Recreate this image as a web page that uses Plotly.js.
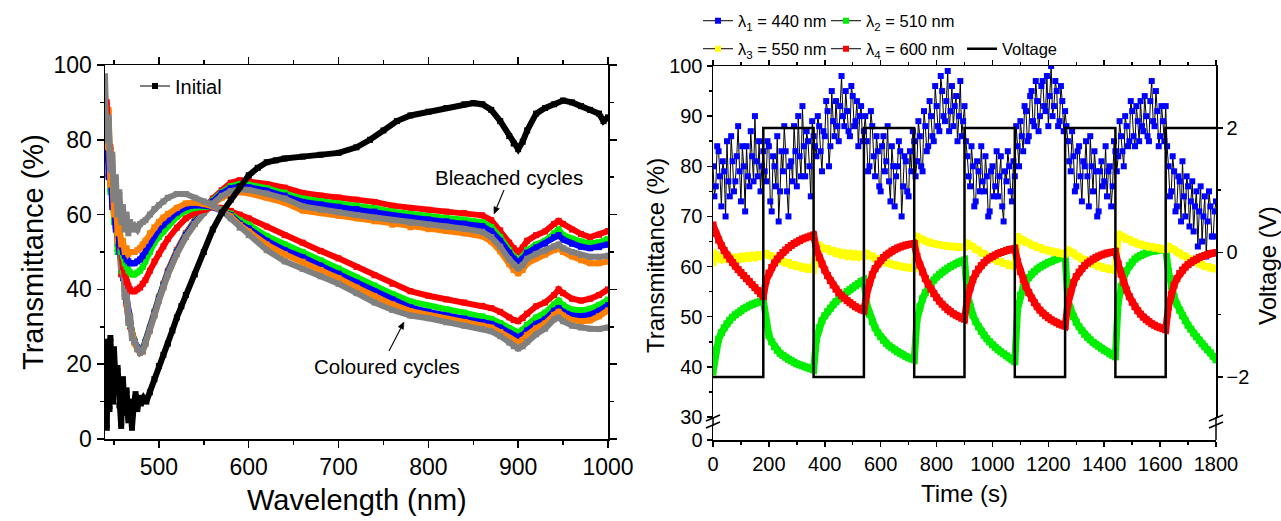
<!DOCTYPE html>
<html><head><meta charset="utf-8">
<script src="https://cdn.plot.ly/plotly-3.0.1.min.js"></script>
<style>html,body{margin:0;padding:0;background:#fff;}#chart{width:1281px;height:521px;}</style>
</head><body><div id="chart"></div>
<script>
// ---------- Left panel data: transmittance spectra ----------
const wavelength = [440,442,444,446,448,450,452,454,456,458,460,462,464,466,468,470,473,476,479,482,485,490,495,500,505,510,520,530,540,550,560,570,580,590,600,620,640,660,680,700,720,740,760,780,800,820,840,860,870,880,890,895,900,905,910,920,930,940,945,950,960,970,980,990,1000];
const bleachedRed    = [88,78,82,68,71,60,63,52,55,44,46,38,36,32,30,28, 26,24.5,23.5,24,26, 30,34,38,41.5,45, 50.5,55,58.5,61.5,64.3,66.5,68.5,69.2,69, 68.2,67.2,65.8,65.1,64.6,64,63.4,62.4,61.7,61.3,60.8,60.4,59.8, 58.5,55.8,52.5,51,50,51.2,53, 54.5,55.5,57.5,58.3,57.5,56,54.8,54,54.6,55.6];
const bleachedGreen  = [90,75,80,66,72,58,62,50,54,45,47,39,37,33,30.5,28, 26,24.5,23.5,24,26, 29.8,33.8,37.8,41.2,44.7, 50.2,54.7,58.2,61.2,63.8,66,67.6,68.2,68, 67.1,65.9,64.3,63.6,63,62.4,61.7,60.8,60.1,59.6,59.1,58.6,58, 56.7,54,50.5,48.8,47.8,48.8,50.5, 52,53,55,56,54.5,53.5,52.8,52.3,52.6,53.5];
const bleachedBlue   = [86,80,76,70,66,61,57,54,50,47,43,40,37,34,31,28.5, 26,24.3,23.3,23.8,25.8, 29.5,33.5,37.5,41,44.5, 50,54.5,58,61,63.5,65.7,67.1,67.5,67.3, 66.4,65.1,63.4,62.7,62.1,61.5,60.8,59.9,59.2,58.7,58.2,57.6,56.9, 55.6,53,49.8,48.2,47.3,48.2,49.8, 51.2,52.2,54,54.5,53.3,52.2,51.4,51,51.3,52];
const bleachedOrange = [92,84,88,72,76,63,66,53,57,47,45,40,38,33,31,28, 25.5,24,23,23.3,25.3, 29,33,37,40.5,44, 49.5,54,57.5,60.5,62.8,64.5,65.5,66,65.7, 64.6,63.2,61.1,60.4,59.7,59,58.2,57.3,56.6,56.1,55.6,55,54.2, 52.8,50.2,46.8,45.2,44.3,45.2,47, 48.3,49.3,50.5,51,50,48.8,47.8,47,47,47.5];
const bleachedGray   = [97,80,84,70,74,62,65,55,56,46,48,38,40,31,33,27, 26,24,23,23.5,25.5, 29,33,37,40.5,44, 49.5,54,57.5,60.5,63,65,66.3,66.8,66.6, 65.6,64.3,62.2,61.3,60.6,59.9,59.2,58.5,57.8,57.3,56.8,56.2,55.4, 54,51.4,48,46.5,45.6,46.5,48.2, 49.5,50.3,51.5,52,51,50,49.2,48.7,48.7,49];
const colouredRed    = [85,90,75,78,65,68,58,60,52,50,46,44,42,41,40,39.5, 39.5,40,40.5,41.5,42.5, 45,47.5,49.5,51.5,53.5, 56.5,59,60.5,61.3,62,61.8,61,60,59, 56.8,54.5,52.5,50.3,48.3,46,43.8,41.5,39.5,38.3,37.3,36.5,35.6, 35,34,32.5,31.8,31.5,32.3,33.5, 35.5,36.5,38.5,40,39,37.5,37,37.5,38.5,40];
const colouredGreen  = [88,80,84,70,72,62,64,55,56,50,49,47,46,45,44.5,44, 44,44.5,45,46,47.5, 50,52.5,54,55.5,57, 59.4,61,61.8,62,62,61.3,60.2,58.5,57.3, 54.3,52,50,47.8,45.6,43.2,41,38.8,36.8,35.6,34.7,33.8,32.8, 32.1,31,29.6,28.8,28.5,29.2,30.5, 32.5,33.8,36,37,35.8,34.6,34.4,34.8,35.8,37.3];
const colouredBlue   = [80,86,70,75,62,66,56,58,52,52,50,49,48,47.5,47,47, 47,47.5,48,49,50.2, 52.5,54.5,56,57.3,58.5, 60.6,62,62.5,62.4,62,61,59.8,57.6,56.3, 53,50.5,48.6,46.4,44.2,41.8,39.5,37.3,35.2,34,33,32.2,31.3, 30.8,29.8,28.3,27.5,27.2,27.8,29, 30.8,32,34.3,35,34,33,32.8,33.2,34.3,35.8];
const colouredOrange = [88,78,83,68,72,60,64,55,57,52,53,50,51,49.5,50,50, 50,50.5,51,52,53, 55,56.6,58,59.2,60.2, 61.8,63,63.2,62.8,62.2,61,59.5,57.2,55.5, 52,49.4,47.4,45.2,43,40.5,38.2,36,34.2,33.1,32.1,31.3,30.3, 29.8,28.6,27,26.2,25.8,26.5,27.8, 29.6,30.9,33.2,34,33,31.8,31.5,31.7,32.8,34.4];
const colouredGray   = [92,80,86,72,76,64,70,60,66,58,62,56,60,55,58,56, 57,56,57.5,58,58.5, 60,61.5,62.5,63.5,64.5, 65.5,65.5,64.5,63.5,62.5,61,59,56.5,54.5, 50.5,47.5,45.5,43.5,41.5,39,36.5,34.5,33,32.3,31.2,30.3,29.4, 28.8,27.5,25.8,24.8,24.2,24.8,26, 28,29.5,32,32.5,31.5,30.3,29.8,29.5,29.4,29.8];
const wavelengthInitial = [440,441,442,443,444,445,446,447,448,449,450,452,454,456,458,460,462,464,466,468,470,472,474,476,478,480,483,486,490,495,500,505,510,515,520,525,530,540,550,560,570,580,590,600,610,620,630,640,660,680,700,720,735,750,765,780,800,820,840,850,860,870,880,890,895,900,905,910,920,930,940,950,960,970,980,990,995,1000];
const initial = [22,12,3,26,18,8,27,15,20,10,24,14,19,9,3.5,16,7,13,5,10,3,9,12,8,11,9.5,11,10,12.5,16,19.5,22.5,25.5,29,32.5,35.5,38.5,44,50,56,60.5,64,67.5,70.5,72.5,74,74.5,75,75.5,76,76.5,78,80,82.5,85,86.5,87.5,88.5,89.5,89.8,89.5,88,85,81,79,77.5,79.5,82.5,87,88.5,89.5,90.5,90,89,88,87,85,86];

// ---------- Right panel data: kinetics ----------
const time = [0,10,20,30,40,50,60,70,80,90,100,110,120,130,140,150,160,170,180,190,200,210,220,230,240,250,260,270,280,290,300,310,320,330,340,350,360,370,380,390,400,410,420,430,440,450,460,470,480,490,500,510,520,530,540,550,560,570,580,590,600,610,620,630,640,650,660,670,680,690,700,710,720,730,740,750,760,770,780,790,800,810,820,830,840,850,860,870,880,890,900,910,920,930,940,950,960,970,980,990,1000,1010,1020,1030,1040,1050,1060,1070,1080,1090,1100,1110,1120,1130,1140,1150,1160,1170,1180,1190,1200,1210,1220,1230,1240,1250,1260,1270,1280,1290,1300,1310,1320,1330,1340,1350,1360,1370,1380,1390,1400,1410,1420,1430,1440,1450,1460,1470,1480,1490,1500,1510,1520,1530,1540,1550,1560,1570,1580,1590,1600,1610,1620,1630,1640,1650,1660,1670,1680,1690,1700,1710,1720,1730,1740,1750,1760,1770,1780,1790,1800];
const timeFine = [0,5,10,15,20,25,30,35,40,45,50,55,60,65,70,75,80,85,90,95,100,105,110,115,120,125,130,135,140,145,150,155,160,165,170,175,180,185,190,195,200,205,210,215,220,225,230,235,240,245,250,255,260,265,270,275,280,285,290,295,300,305,310,315,320,325,330,335,340,345,350,355,360,365,370,375,380,385,390,395,400,405,410,415,420,425,430,435,440,445,450,455,460,465,470,475,480,485,490,495,500,505,510,515,520,525,530,535,540,545,550,555,560,565,570,575,580,585,590,595,600,605,610,615,620,625,630,635,640,645,650,655,660,665,670,675,680,685,690,695,700,705,710,715,720,725,730,735,740,745,750,755,760,765,770,775,780,785,790,795,800,805,810,815,820,825,830,835,840,845,850,855,860,865,870,875,880,885,890,895,900,905,910,915,920,925,930,935,940,945,950,955,960,965,970,975,980,985,990,995,1000,1005,1010,1015,1020,1025,1030,1035,1040,1045,1050,1055,1060,1065,1070,1075,1080,1085,1090,1095,1100,1105,1110,1115,1120,1125,1130,1135,1140,1145,1150,1155,1160,1165,1170,1175,1180,1185,1190,1195,1200,1205,1210,1215,1220,1225,1230,1235,1240,1245,1250,1255,1260,1265,1270,1275,1280,1285,1290,1295,1300,1305,1310,1315,1320,1325,1330,1335,1340,1345,1350,1355,1360,1365,1370,1375,1380,1385,1390,1395,1400,1405,1410,1415,1420,1425,1430,1435,1440,1445,1450,1455,1460,1465,1470,1475,1480,1485,1490,1495,1500,1505,1510,1515,1520,1525,1530,1535,1540,1545,1550,1555,1560,1565,1570,1575,1580,1585,1590,1595,1600,1605,1610,1615,1620,1625,1630,1635,1640,1645,1650,1655,1660,1665,1670,1675,1680,1685,1690,1695,1700,1705,1710,1715,1720,1725,1730,1735,1740,1745,1750,1755,1760,1765,1770,1775,1780,1785,1790,1795,1800];
const t440 = [80,74,76,84,83,78,72,81,79,70,85,77,74,86,81,75,77,82,88,79,73,84,80,71,84,78,76,87,82,77,90,81,78,85,75,80,83,
  79,77,85,84,73,71,82,80,76,86,69,75,83,79,88,83,75,70,80,81,77,88,83,76,90,82,78,92,84,78,87,85,80,74,89,86,
  84,82,90,88,83,79,87,86,93,91,80,84,95,89,86,93,88,85,92,98,90,88,95,91,87,86,96,94,88,89,93,84,90,92,85,87,
  90,85,79,80,91,88,82,78,86,83,76,75,84,86,79,81,88,77,73,84,80,72,78,80,85,83,70,76,82,81,75,74,83,79,87,85,
  78,81,89,86,80,79,91,88,83,84,93,90,86,85,96,92,88,87,98,95,90,89,93,99,87,91,96,88,92,94,85,90,97,86,89,92,
  85,82,78,76,84,80,72,73,81,79,75,84,77,75,82,78,70,71,79,80,74,76,83,74,78,82,72,69,79,77,83,80,75,73,81,78,
  88,84,80,89,86,83,92,91,85,86,94,95,89,88,97,93,87,90,96,97,92,91,98,88,94,100,90,92,97,95,88,89,96,93,87,91,
  88,85,81,79,87,82,75,76,83,84,78,73,81,80,85,78,72,86,80,75,83,79,70,71,79,81,76,77,84,74,79,80,72,76,85,83,
  79,82,89,86,83,80,90,88,84,85,93,91,86,84,92,89,85,93,88,87,94,90,86,85,93,97,89,88,95,91,84,86,92,89,85,92,
  84,80,74,75,82,79,71,72,78,77,69,81,74,70,78,76,68,73,77,67,72,75,64,71,76,65,70,74,62,69,75,72,66,66,71,73];
const t510 = [39,43.5,45.5,46.8,47.8,48.6,49.3,49.9,50.4,50.8,51.2,51.6,51.9,52.2,52.5,52.7,52.9,53.1,53.3,
  48.5,46.3,45,44,43.3,42.7,42.3,41.9,41.5,41.2,40.9,40.6,40.4,40.2,40,39.8,39.6,39.4,
  45.5,47.8,49.2,50.2,51,51.7,52.4,53,53.5,54,54.5,55,55.4,55.8,56.2,56.6,57,57.3,
  52.5,50.5,49,47.8,46.8,46,45.3,44.7,44.2,43.8,43.4,43,42.7,42.4,42.1,41.8,41.6,41.4,
  49.5,52,53.6,54.8,55.8,56.6,57.3,57.9,58.4,58.9,59.3,59.7,60,60.3,60.6,60.9,61.1,61.3,
  54.5,52,50.3,49,48,47.1,46.3,45.6,45,44.4,43.9,43.4,43,42.6,42.2,41.8,41.4,41,
  51.5,54.3,55.9,57,57.8,58.5,59,59.5,59.9,60.2,60.5,60.8,61,61.3,61.5,61.7,61.9,62,
  53.5,51.5,50,48.9,48,47.2,46.5,45.9,45.4,44.9,44.5,44.1,43.7,43.3,43,42.6,42.3,42,
  53,56,57.8,59.2,60.2,60.9,61.5,61.9,62.2,62.5,62.7,62.9,63,63.1,63.2,63.3,63.4,63.5,
  59,56,54,52.5,51.3,50.2,49.2,48.3,47.5,46.7,46,45.3,44.6,44,43.4,42.8,42.1,41.4];
const t550 = [60.8,62.4,61.8,61.4,62.1,61.5,61.9,61.2,61.8,61.4,62,61.6,62.1,61.7,62.2,61.8,62.3,62,62.4,
  62.6,62.2,62.1,61.6,61.6,61.1,61.1,60.7,60.8,60.3,60.4,60,60.1,59.7,59.9,59.5,59.7,59.4,
  64.2,64.3,63.7,63.5,63.6,63,63.2,62.6,62.9,62.3,62.7,62.1,62.6,62,62.5,61.9,62.4,62,
  62.6,62.2,62.1,61.6,61.6,61.1,61.1,60.7,60.7,60.4,60.4,60.1,60.1,59.9,59.9,59.7,59.8,59.6,
  66,65.6,65.4,65.1,64.9,64.7,64.6,64.4,64.4,64.2,64.2,64,64.1,63.9,64,63.8,63.9,63.8,
  64.6,64.2,64,63.4,63.3,62.7,62.6,62.1,62,61.5,61.5,61,61,60.6,60.6,60.2,60.3,60,
  66,65.5,65.3,64.8,64.7,64.3,64.2,63.8,63.8,63.4,63.4,63.1,63.1,62.8,62.9,62.6,62.7,62.5,
  63.3,62.9,62.7,62.1,62,61.5,61.4,60.9,60.9,60.4,60.4,60,60,59.6,59.7,59.4,59.4,59.2,
  66.5,66.1,65.9,65.4,65.4,64.9,64.9,64.5,64.5,64.2,64.2,63.9,64,63.7,63.8,63.5,63.6,63.4,
  64,63.6,63.4,62.9,62.7,62.2,62.1,61.6,61.5,61,60.9,60.5,60.4,60,60,59.7,59.7,59.5];
const t600 = [68.3,66.6,65.3,64.2,63.2,62.3,61.5,60.8,60.1,59.4,58.8,58.2,57.6,57,56.4,55.8,55.2,54.6,54,
  57.2,58.7,59.8,60.7,61.5,62.2,62.8,63.3,63.8,64.2,64.6,64.9,65.2,65.5,65.7,65.9,66.1,66.3,
  63.5,61.8,60.5,59.3,58.2,57.2,56.3,55.5,54.8,54.2,53.7,53.2,52.8,52.4,52,51.7,51.4,51.2,
  54.5,56.8,58.4,59.6,60.5,61.2,61.8,62.3,62.7,63.1,63.4,63.7,63.9,64.1,64.3,64.4,64.5,64.6,
  62,60.3,58.9,57.6,56.5,55.5,54.6,53.8,53.1,52.5,51.9,51.4,51,50.6,50.3,50,49.7,49.5,
  53.5,55.8,57.4,58.6,59.5,60.2,60.8,61.3,61.7,62,62.3,62.6,62.8,63,63.2,63.4,63.5,63.6,
  61,59,57.4,56,54.8,53.7,52.8,52,51.3,50.7,50.2,49.8,49.4,49.1,48.8,48.5,48.3,48.1,
  52.5,55,56.8,58,58.9,59.6,60.2,60.7,61.1,61.5,61.8,62.1,62.3,62.5,62.7,62.8,62.9,63,
  60.5,58.5,56.8,55.3,54,52.9,52,51.2,50.5,49.9,49.4,49,48.6,48.3,48,47.8,47.6,47.4,
  52,54.5,56.3,57.6,58.6,59.3,59.9,60.4,60.8,61.2,61.5,61.8,62,62.2,62.4,62.6,62.7,62.8];
const switchTimes = [0,180,360,540,720,900,1080,1260,1440,1620,1800];
const voltageLevels = [-2,2,-2,2,-2,2,-2,2,-2,2,2];

// ---------- helpers ----------
const W = 1281, H = 521;
const px = v => v / W, py = v => 1 - v / H;
const FONT = 'Liberation Sans, Arial, Helvetica, sans-serif';
const C = {red:'#ff0000', green:'#00ee00', blue:'#0000ff', orange:'#ff8000', gray:'#808080', yellow:'#ffff00'};

function band(y, color) {
  return {x: wavelength, y: y, type:'scatter', mode:'lines+markers', xaxis:'x', yaxis:'y', showlegend:false,
    line:{color:color, width:6}, marker:{symbol:'square', size:6, color:color}, hoverinfo:'skip'};
}
function kin(y, color) {
  return {x: time, y: y, type:'scatter', mode:'lines+markers', xaxis:'x2', yaxis:'y2', showlegend:false,
    line:{color:color, width:7}, marker:{symbol:'square', size:7, color:color}, hoverinfo:'skip'};
}
function legendItem(name, color, legend) {
  return {x:[null], y:[null], type:'scatter', mode:'lines+markers', name:name, legend:legend, xaxis:'x2', yaxis:'y2',
    line:{color:'#000', width:1}, marker:{symbol:'square', size:6, color:color}};
}

const traces = [
  band(bleachedRed, C.red), band(bleachedGreen, C.green), band(bleachedBlue, C.blue), band(bleachedOrange, C.orange), band(bleachedGray, C.gray),
  band(colouredRed, C.red), band(colouredGreen, C.green), band(colouredBlue, C.blue), band(colouredOrange, C.orange), band(colouredGray, C.gray),
  {x: wavelengthInitial, y: initial, type:'scatter', mode:'lines+markers', xaxis:'x', yaxis:'y', showlegend:false,
    line:{color:'#000', width:6}, marker:{symbol:'square', size:6, color:'#000'}, hoverinfo:'skip'},
  {x:[null], y:[null], type:'scatter', mode:'lines+markers', name:'Initial', legend:'legend6', xaxis:'x', yaxis:'y',
    line:{color:'#000', width:1}, marker:{symbol:'square', size:6, color:'#000'}},
  {x: timeFine, y: t440, type:'scatter', mode:'lines+markers', xaxis:'x2', yaxis:'y2', name:'λ<sub>1</sub> = 440 nm', legend:'legend',
    line:{color:'#000', width:1, simplify:false}, marker:{symbol:'square', size:6, color:C.blue}, hoverinfo:'skip'},
  kin(t510, C.green), kin(t550, C.yellow), kin(t600, C.red),
  legendItem('λ<sub>2</sub> = 510 nm', C.green, 'legend2'),
  legendItem('λ<sub>3</sub> = 550 nm', C.yellow, 'legend3'),
  legendItem('λ<sub>4</sub> = 600 nm', C.red, 'legend4'),
  {x: switchTimes, y: voltageLevels, type:'scatter', mode:'lines', xaxis:'x2', yaxis:'y3', name:'Voltage', legend:'legend5',
    line:{color:'#000', width:2.5, shape:'hv'}, hoverinfo:'skip'},
  {x:[null], y:[null], type:'scatter', mode:'lines', xaxis:'x3', yaxis:'y2', showlegend:false},
  {x:[null], y:[null], type:'scatter', mode:'lines', xaxis:'x2', yaxis:'y4', showlegend:false}
];

const axisBase = {showline:true, linecolor:'#000', linewidth:1.5, ticks:'outside', tickcolor:'#000', tickwidth:1.5,
  showgrid:false, zeroline:false, color:'#000'};
const minor = (d, len) => ({dtick:d, ticks:'outside', ticklen:len, tickwidth:1.5, tickcolor:'#000', showgrid:false});

function leg(x, y, size) {
  return {x:px(x), y:py(y), xanchor:'left', yanchor:'middle', orientation:'h', bgcolor:'rgba(0,0,0,0)',
    borderwidth:0, font:{size:size||16.5, family:FONT, color:'#000'}, itemwidth:30, tracegroupgap:0};
}

const ann = (text, x, y, size, angle) => ({text:text, x:px(x), y:py(y), xref:'paper', yref:'paper', showarrow:false,
  xanchor:'center', yanchor:'middle', textangle:angle||0, font:{size:size, family:FONT, color:'#000'}});
const seg = (x0, y0, x1, y1, w) => ({type:'line', xref:'paper', yref:'paper', x0:px(x0), y0:py(y0), x1:px(x1), y1:py(y1),
  line:{color:'#000', width:w||1.5}});
function arrowShapes(tx, ty, hx, hy) {
  const dx = hx - tx, dy = hy - ty, L = Math.hypot(dx, dy), ux = dx / L, uy = dy / L;
  const bx = hx - 7 * ux, by = hy - 7 * uy, nx = -uy, ny = ux;
  const p = (x, y) => px(x) + ',' + py(y);
  return [seg(tx, ty, bx, by, 1.1),
    {type:'path', xref:'paper', yref:'paper', path:'M' + p(hx, hy) + ' L' + p(bx + 3 * nx, by + 3 * ny) + ' L' + p(bx - 3 * nx, by - 3 * ny) + ' Z',
     fillcolor:'#000', line:{color:'#000', width:0.5}}];
}

const layout = {
  width: W, height: H, margin:{l:0, r:0, t:0, b:0}, paper_bgcolor:'#fff', plot_bgcolor:'rgba(0,0,0,0)',
  font:{family:FONT, color:'#000'}, hovermode:false,
  xaxis: Object.assign({}, axisBase, {domain:[px(105), px(608)], range:[440,1000], anchor:'y', dtick:100, tick0:0,
    ticklen:7, mirror:'ticks', tickfont:{size:23}, minor:minor(50, 4)}),
  yaxis: Object.assign({}, axisBase, {domain:[py(439), py(65)], range:[0,100], anchor:'x', dtick:20, tick0:0,
    ticklen:7, mirror:'ticks', tickfont:{size:23}, minor:minor(10, 4)}),
  xaxis2: Object.assign({}, axisBase, {domain:[px(713), px(1216)], range:[0,1800], anchor:'y4', dtick:200, tick0:0,
    ticklen:5, tickfont:{size:20}, minor:minor(100, 3)}),
  xaxis3: Object.assign({}, axisBase, {overlaying:'x2', anchor:'y2', side:'top', range:[0,1800], dtick:200, tick0:0,
    ticklen:5, showticklabels:false, minor:minor(100, 3)}),
  yaxis2: Object.assign({}, axisBase, {domain:[py(417), py(66)], range:[30,100], anchor:'x2', dtick:10, tick0:0,
    ticklen:5, tickfont:{size:20}, minor:minor(5, 3)}),
  yaxis3: Object.assign({}, axisBase, {overlaying:'y2', anchor:'x2', side:'right', range:[-2.643, 2.996], dtick:2, tick0:0,
    ticklen:5, tickfont:{size:20}, minor:minor(1, 3)}),
  yaxis4: Object.assign({}, axisBase, {domain:[py(440), py(426)], range:[0,3.5], anchor:'x2', tickvals:[0],
    ticklen:5, tickfont:{size:20}}),
  legend: leg(698, 21), legend2: leg(826, 21), legend3: leg(698, 49), legend4: leg(826, 49), legend5: leg(962, 49),
  legend6: leg(135, 86, 20),
  annotations: [
    ann('Transmittance (%)', 33, 252, 29, -90),
    ann('Wavelength (nm)', 357, 500, 29),
    ann('Bleached cycles', 509, 177, 20.5),
    ann('Coloured cycles', 387, 366, 20.5),
    ann('Transmittance (%)', 655, 256, 24, -90),
    ann('Time (s)', 965, 493, 24),
    ann('Voltage (V)', 1267, 266, 24, -90)
  ],
  shapes: [
    seg(713, 417, 713, 426), seg(1216, 417, 1216, 440),
    seg(706, 421, 720, 415), seg(706, 428, 720, 422),
    seg(1209, 421, 1223, 415), seg(1209, 428, 1223, 422)
  ].concat(arrowShapes(504, 190, 494, 214), arrowShapes(389, 351, 404, 322))
};

Plotly.newPlot('chart', traces, layout, {staticPlot:true, displayModeBar:false});
</script></body></html>
